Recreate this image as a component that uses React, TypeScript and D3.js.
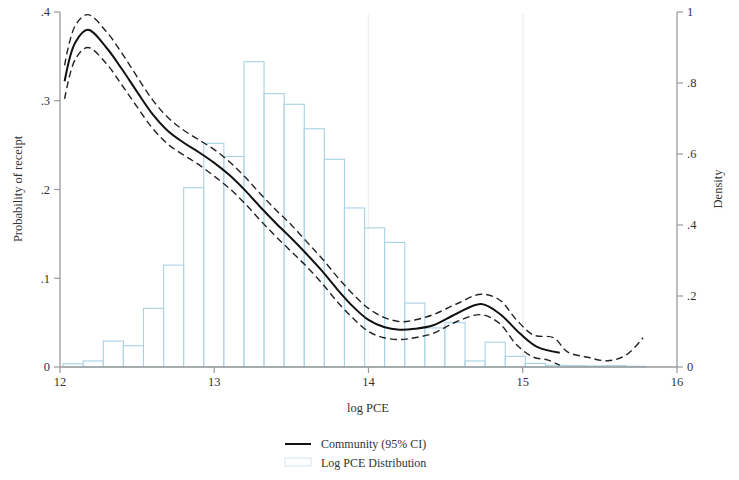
import React from "react";
import * as d3 from "d3";

const xTicks = [12, 13, 14, 15, 16];
const probTicks = [0, 0.1, 0.2, 0.3, 0.4];
const densTicks = [0, 0.2, 0.4, 0.6, 0.8, 1];
const gridX = [14, 15];

const binStart = 12.02;
const binWidth = 0.1303;
const binDensity = [
  0.009, 0.017, 0.073, 0.06, 0.165, 0.287, 0.505, 0.63, 0.593, 0.86,
  0.77, 0.74, 0.671, 0.585, 0.448, 0.392, 0.351, 0.18, 0.11, 0.125,
  0.017, 0.07, 0.03, 0.01, 0.005, 0.004, 0.003, 0.004, 0.002,
];

const meanX = [12.03, 12.1, 12.18, 12.3, 12.4, 12.5, 12.6, 12.7, 12.8, 12.9, 13.0, 13.1, 13.2, 13.3, 13.4, 13.5, 13.6, 13.7, 13.8, 13.9, 14.0, 14.1, 14.2, 14.3, 14.42, 14.57, 14.73, 14.85, 14.98, 15.09, 15.24];
const meanY = [0.322, 0.366, 0.38, 0.36, 0.336, 0.31, 0.285, 0.266, 0.253, 0.242, 0.23, 0.216, 0.199, 0.18, 0.162, 0.145, 0.127, 0.108, 0.087, 0.068, 0.053, 0.045, 0.042, 0.043, 0.047, 0.06, 0.071, 0.06, 0.038, 0.023, 0.016];

const upperX = [12.03, 12.1, 12.18, 12.3, 12.4, 12.5, 12.6, 12.7, 12.8, 12.9, 13.0, 13.1, 13.2, 13.3, 13.4, 13.5, 13.6, 13.7, 13.8, 13.9, 14.0, 14.1, 14.21, 14.3, 14.42, 14.57, 14.73, 14.85, 14.96, 15.07, 15.2, 15.29, 15.42, 15.55, 15.67, 15.78];
const upperY = [0.34, 0.385, 0.397, 0.378, 0.354, 0.327, 0.301, 0.281, 0.267, 0.256, 0.245, 0.231, 0.214, 0.195, 0.177, 0.16, 0.141, 0.122, 0.101, 0.082, 0.066, 0.056, 0.051, 0.053, 0.059, 0.071, 0.082, 0.0755, 0.053, 0.036, 0.033, 0.017, 0.011, 0.007, 0.0135, 0.033];

const lowerX = [12.03, 12.1, 12.18, 12.3, 12.4, 12.5, 12.6, 12.7, 12.8, 12.9, 13.0, 13.1, 13.2, 13.3, 13.4, 13.5, 13.6, 13.7, 13.8, 13.9, 14.0, 14.1, 14.21, 14.3, 14.42, 14.57, 14.73, 14.85, 14.96, 15.07, 15.16, 15.24];
const lowerY = [0.302, 0.347, 0.36, 0.342, 0.318, 0.293, 0.269, 0.251, 0.239, 0.228, 0.215, 0.201, 0.184, 0.165, 0.147, 0.13, 0.113, 0.094, 0.073, 0.055, 0.04, 0.033, 0.031, 0.033, 0.038, 0.051, 0.059, 0.049, 0.025, 0.011, 0.008, 0.002];

const fmt = (d: number) => (d === 0 ? "0" : d === 1 ? "1" : String(+d.toFixed(2)).replace(/^0/, ""));

const FONT = "'Liberation Serif', 'DejaVu Serif', serif";

export default function App() {
  const x = d3.scaleLinear().domain([12, 16]).range([60, 677]);
  const yL = d3.scaleLinear().domain([0, 0.4]).range([367, 12]);
  const yR = d3.scaleLinear().domain([0, 1]).range([367, 12]);

  const line = d3
    .line<[number, number]>()
    .x((d) => x(d[0]))
    .y((d) => yL(d[1]))
    .curve(d3.curveCatmullRom.alpha(0.5));

  const mk = (xs: number[], ys: number[]) => xs.map((v, i) => [v, ys[i]] as [number, number]);

  const axisColor = "#9a9a9a";
  const textColor = "#333";

  return (
    <svg
      width={739}
      height={480}
      style={{ position: "absolute", left: 0, top: 0, background: "#fff" }}
      fontFamily={FONT}
    >
      <rect x={0} y={0} width={739} height={480} fill="#fff" />
      {gridX.map((t) => (
        <line key={t} x1={x(t)} x2={x(t)} y1={14} y2={367} stroke="#f0f0f0" strokeWidth={1.5} />
      ))}
      {binDensity.map((d, i) => {
        const x0 = x(binStart + i * binWidth);
        const x1 = x(binStart + (i + 1) * binWidth);
        return (
          <rect
            key={i}
            x={x0}
            y={yR(d)}
            width={x1 - x0}
            height={yR(0) - yR(d)}
            fill="#ffffff"
            fillOpacity={0.6}
            stroke="#a8d2e4"
            strokeWidth={1.1}
          />
        );
      })}
      <path d={line(mk(upperX, upperY)) || ""} fill="none" stroke="#222" strokeWidth={1.4} strokeDasharray="7,4" />
      <path d={line(mk(lowerX, lowerY)) || ""} fill="none" stroke="#222" strokeWidth={1.4} strokeDasharray="7,4" />
      <path d={line(mk(meanX, meanY)) || ""} fill="none" stroke="#111" strokeWidth={2} />

      <line x1={60} x2={60} y1={12} y2={367} stroke={axisColor} strokeWidth={1.3} />
      <line x1={677} x2={677} y1={12} y2={367} stroke={axisColor} strokeWidth={1.3} />
      <line x1={60} x2={677} y1={367} y2={367} stroke={axisColor} strokeWidth={1.3} />
      {probTicks.map((t) => (
        <g key={"p" + t}>
          <line x1={54} x2={60} y1={yL(t)} y2={yL(t)} stroke={axisColor} strokeWidth={1.2} />
          <text x={50} y={yL(t)} dy="0.35em" textAnchor="end" fontSize={12.5} fill={textColor}>
            {fmt(t)}
          </text>
        </g>
      ))}
      {densTicks.map((t) => (
        <g key={"d" + t}>
          <line x1={677} x2={683} y1={yR(t)} y2={yR(t)} stroke={axisColor} strokeWidth={1.2} />
          <text x={687} y={yR(t)} dy="0.35em" textAnchor="start" fontSize={12.5} fill={textColor}>
            {fmt(t)}
          </text>
        </g>
      ))}
      {xTicks.map((t) => (
        <g key={"x" + t}>
          <line x1={x(t)} x2={x(t)} y1={367} y2={373} stroke={axisColor} strokeWidth={1.2} />
          <text x={x(t)} y={386} textAnchor="middle" fontSize={12.5} fill={textColor}>
            {t}
          </text>
        </g>
      ))}
      <text x={368} y={412} textAnchor="middle" fontSize={12.5} fill={textColor}>
        log PCE
      </text>
      <text transform="translate(22,189) rotate(-90)" textAnchor="middle" fontSize={12.5} fill={textColor}>
        Probability of receipt
      </text>
      <text transform="translate(722,189) rotate(-90)" textAnchor="middle" fontSize={12.5} fill={textColor}>
        Density
      </text>

      <line x1={285} x2={311} y1={444} y2={444} stroke="#111" strokeWidth={2} />
      <text x={321} y={448} fontSize={12} fill={textColor}>
        Community (95% CI)
      </text>
      <rect x={285} y={458} width={26} height={8} fill="#fff" stroke="#d6e4ea" strokeWidth={1} />
      <text x={321} y={467} fontSize={12} fill={textColor}>
        Log PCE Distribution
      </text>
    </svg>
  );
}
